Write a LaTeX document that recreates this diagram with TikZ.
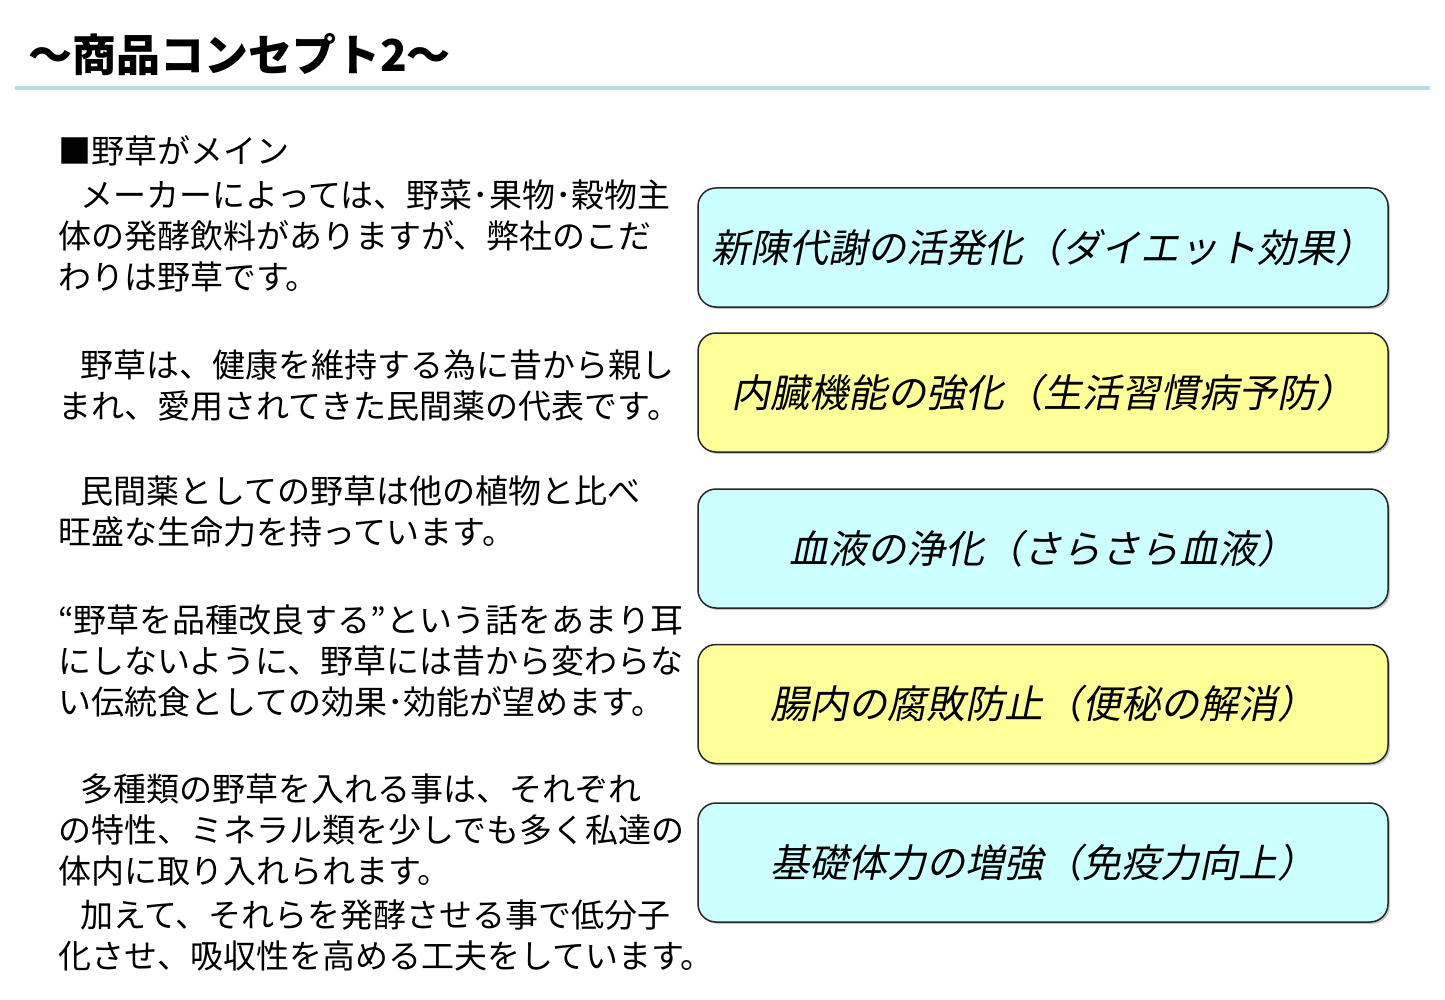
\documentclass[tikz,border=0pt]{standalone}
\usepackage{fontspec}
\setmainfont{Noto Sans CJK JP}
\newfontfamily\jpslant[FakeSlant=0.2]{Noto Sans CJK JP}
\usetikzlibrary{shadows}
\definecolor{rulecol}{HTML}{B4DEDE}
\definecolor{cyanbox}{HTML}{CCFFFF}
\definecolor{yellowbox}{HTML}{FFFF99}
\begin{document}
\begin{tikzpicture}[x=1pt,y=-1pt,
  body/.style={anchor=base west, inner sep=0pt, font=\fontsize{33}{41}\selectfont},
  effbox/.style={draw=black!85, line width=1.5pt, rounded corners=18pt,
    minimum width=690pt, minimum height=119pt, inner sep=0pt,
    font=\jpslant\fontsize{39}{45}\selectfont,
    drop shadow={shadow xshift=2pt, shadow yshift=-2pt, fill=black!35, opacity=0.6}},
  titlestyle/.style={anchor=base west, inner sep=0pt, font=\bfseries\fontsize{44}{50}\selectfont}
  ]
\useasboundingbox[fill=white] (0,0) rectangle (1445,1000);

\node[titlestyle] (title) at (28,72) {～商品コンセプト2～};
\coordinate (ruleL) at (15,88);
\coordinate (ruleR) at (1430,88);
\draw[rulecol, line width=4pt] (ruleL) -- (ruleR);

\node[body] (head) at (58,164) {■野草がメイン};

\foreach \n/\yy/\t in {
  1/208/{\hspace*{22pt}メーカーによっては、野菜･果物･穀物主},
  2/249/{体の発酵飲料がありますが、弊社のこだ},
  3/290/{わりは野草です。},
  4/377/{\hspace*{22pt}野草は、健康を維持する為に昔から親し},
  5/418/{まれ、愛用されてきた民間薬の代表です。},
  6/503/{\hspace*{22pt}民間薬としての野草は他の植物と比べ},
  7/544/{旺盛な生命力を持っています。},
  8/632/{“野草を品種改良する”という話をあまり耳},
  9/673/{にしないように、野草には昔から変わらな},
  10/714/{い伝統食としての効果･効能が望めます。},
  11/801/{\hspace*{22pt}多種類の野草を入れる事は、それぞれ},
  12/842/{の特性、ミネラル類を少しでも多く私達の},
  13/883/{体内に取り入れられます。},
  14/927/{\hspace*{22pt}加えて、それらを発酵させる事で低分子},
  15/968/{化させ、吸収性を高める工夫をしています。}}
  \node[body] (line\n) at (58,\yy) {\t};

\node[effbox, fill=cyanbox]   (b1) at (1043,247.5) {新陳代謝の活発化（ダイエット効果）};
\node[effbox, fill=yellowbox] (b2) at (1043,392.5) {内臓機能の強化（生活習慣病予防）};
\node[effbox, fill=cyanbox]   (b3) at (1043,548.5) {血液の浄化（さらさら血液）};
\node[effbox, fill=yellowbox] (b4) at (1043,704)   {腸内の腐敗防止（便秘の解消）};
\node[effbox, fill=cyanbox]   (b5) at (1043,862.5) {基礎体力の増強（免疫力向上）};
\end{tikzpicture}
\end{document}
